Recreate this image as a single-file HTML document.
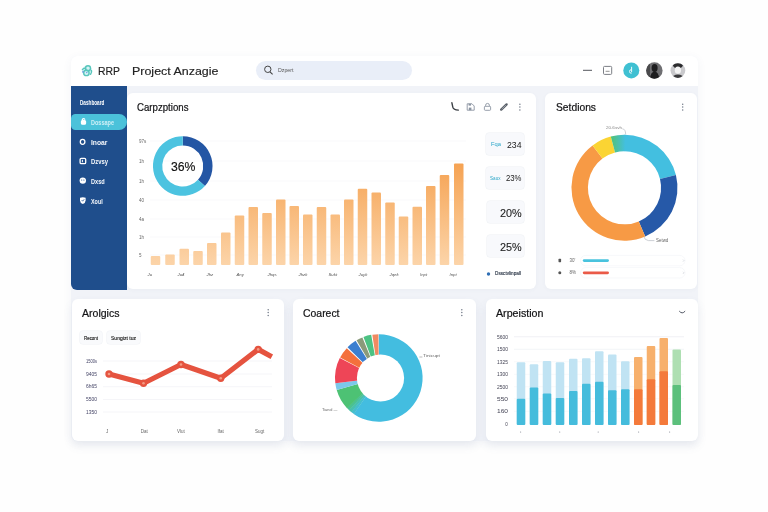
<!DOCTYPE html>
<html lang="en"><head><meta charset="utf-8"><title>RRP Project</title>
<style>
html,body{margin:0;padding:0}
body{width:768px;height:512px;background:#fefefe;position:relative;overflow:hidden;font-family:"Liberation Sans",sans-serif}
.a{position:absolute}
.t{position:absolute;white-space:nowrap;font-family:"Liberation Sans",sans-serif}
.card{position:absolute;background:#fff;border-radius:6px;box-shadow:0 1px 4px rgba(80,100,140,.04)}
.sb{position:absolute;background:#f8f9fc;border-radius:3px;box-shadow:0 0 0 .5px #edf0f4}
</style></head><body>
<div id="w" style="position:absolute;left:0;top:0;width:768px;height:512px;background:#fefefe;filter:blur(.4px)">
<div class="a" style="left:71px;top:56.2px;width:627px;height:384.8px;background:#f1f3f8;border-radius:6px;box-shadow:0 2px 10px rgba(70,90,130,.06)"></div>
<div class="a" style="left:71px;top:56.2px;width:627px;height:29.8px;background:#fff;border-radius:6px 6px 0 0"></div>
<div class="a" style="left:255.5px;top:60.5px;width:156px;height:19.5px;border-radius:10px;background:#e9eef8"></div>
<div class="a" style="left:71px;top:86.2px;width:56.2px;height:204.2px;background:#1f4e8c;border-radius:0 0 0 6px"></div>
<div class="a" style="left:71px;top:113.7px;width:55.8px;height:16.4px;background:#4bc2da;border-radius:5px 9px 9px 5px"></div>
<div class="card" style="left:127.3px;top:92.7px;width:408.4px;height:196.8px"></div>
<div class="card" style="left:545.3px;top:92.7px;width:152.2px;height:196.8px"></div>
<div class="card" style="left:71.5px;top:298.5px;width:212.3px;height:142.5px;box-shadow:0 5px 10px rgba(90,105,145,.10)"></div>
<div class="card" style="left:292.5px;top:298.5px;width:183.5px;height:142.5px;box-shadow:0 5px 10px rgba(90,105,145,.10)"></div>
<div class="card" style="left:485.5px;top:298.5px;width:212px;height:142.5px;box-shadow:0 5px 10px rgba(90,105,145,.10)"></div>
<div class="sb" style="left:485.5px;top:133px;width:38.5px;height:22px"></div>
<div class="sb" style="left:485.5px;top:166.5px;width:38.5px;height:22px"></div>
<div class="sb" style="left:486.7px;top:201px;width:37.3px;height:22px"></div>
<div class="sb" style="left:486.7px;top:235px;width:37.3px;height:22px"></div>
<div class="sb" style="left:80.2px;top:331px;width:21.8px;height:12.5px;background:#f9fafc;box-shadow:0 0 0 .6px #f0f2f6"></div>
<div class="sb" style="left:107px;top:331px;width:33.2px;height:12.5px;background:#f9fafc;box-shadow:0 0 0 .6px #f0f2f6"></div>
<svg class="a" style="left:0;top:0" width="768" height="512" viewBox="0 0 768 512">
<defs>
<linearGradient id="og" gradientUnits="userSpaceOnUse" x1="0" y1="160" x2="0" y2="268"><stop offset="0" stop-color="#f5a150"/><stop offset="1" stop-color="#fcd6ac"/></linearGradient>
<linearGradient id="gc" x1="0" y1="0" x2="1" y2="0"><stop offset="0" stop-color="#52c273"/><stop offset="1" stop-color="#43bfe0"/></linearGradient>
</defs>
<line x1="150" x2="466" y1="141" y2="141" stroke="#f7f8fa" stroke-width="0.8"/><line x1="150" x2="466" y1="161" y2="161" stroke="#f7f8fa" stroke-width="0.8"/><line x1="150" x2="466" y1="181" y2="181" stroke="#f7f8fa" stroke-width="0.8"/><line x1="150" x2="466" y1="200" y2="200" stroke="#f7f8fa" stroke-width="0.8"/><line x1="150" x2="466" y1="219" y2="219" stroke="#f7f8fa" stroke-width="0.8"/><line x1="150" x2="466" y1="237" y2="237" stroke="#f7f8fa" stroke-width="0.8"/><line x1="150" x2="466" y1="255" y2="255" stroke="#f7f8fa" stroke-width="0.8"/><rect x="150.75" y="256" width="9.5" height="9" rx="1" fill="url(#og)"/><rect x="165.25" y="254.5" width="9.5" height="10.5" rx="1" fill="url(#og)"/><rect x="179.50" y="248.75" width="9.5" height="16.25" rx="1" fill="url(#og)"/><rect x="193.25" y="251" width="9.5" height="14" rx="1" fill="url(#og)"/><rect x="207.00" y="243" width="9.5" height="22" rx="1" fill="url(#og)"/><rect x="221.00" y="232.5" width="9.5" height="32.5" rx="1" fill="url(#og)"/><rect x="234.75" y="215.5" width="9.5" height="49.5" rx="1" fill="url(#og)"/><rect x="248.50" y="207" width="9.5" height="58" rx="1" fill="url(#og)"/><rect x="262.25" y="213" width="9.5" height="52" rx="1" fill="url(#og)"/><rect x="276.00" y="199.5" width="9.5" height="65.5" rx="1" fill="url(#og)"/><rect x="289.50" y="206" width="9.5" height="59" rx="1" fill="url(#og)"/><rect x="303.00" y="214.5" width="9.5" height="50.5" rx="1" fill="url(#og)"/><rect x="316.75" y="207" width="9.5" height="58" rx="1" fill="url(#og)"/><rect x="330.50" y="214.5" width="9.5" height="50.5" rx="1" fill="url(#og)"/><rect x="344.00" y="199.5" width="9.5" height="65.5" rx="1" fill="url(#og)"/><rect x="357.75" y="188.75" width="9.5" height="76.25" rx="1" fill="url(#og)"/><rect x="371.50" y="192.5" width="9.5" height="72.5" rx="1" fill="url(#og)"/><rect x="385.25" y="202.5" width="9.5" height="62.5" rx="1" fill="url(#og)"/><rect x="398.75" y="216.5" width="9.5" height="48.5" rx="1" fill="url(#og)"/><rect x="412.50" y="206.75" width="9.5" height="58.25" rx="1" fill="url(#og)"/><rect x="426.00" y="186" width="9.5" height="79" rx="1" fill="url(#og)"/><rect x="439.75" y="175" width="9.5" height="90" rx="1" fill="url(#og)"/><rect x="454.00" y="163.5" width="9.5" height="101.5" rx="1" fill="url(#og)"/>
<path d="M182.75 136.20A29.8 29.8 0 0 1 204.90 185.94L197.98 179.72A20.5 20.5 0 0 0 182.75 145.50Z" fill="#2456a4" /><path d="M204.90 185.94A29.8 29.8 0 1 1 182.75 136.20L182.75 145.50A20.5 20.5 0 1 0 197.98 179.72Z" fill="#4cc3e0" />
<path d="M624.50 134.75A53 53 0 0 1 675.93 174.93L660.01 178.90A36.6 36.6 0 0 0 624.50 151.15Z" fill="#43bfe0" /><path d="M675.93 174.93A53 53 0 0 1 645.21 236.54L638.80 221.44A36.6 36.6 0 0 0 660.01 178.90Z" fill="#2659a8" /><path d="M645.21 236.54A53 53 0 0 1 592.60 145.42L602.47 158.52A36.6 36.6 0 0 0 638.80 221.44Z" fill="#f79a45" /><path d="M592.60 145.42A53 53 0 0 1 610.78 136.56L615.03 152.40A36.6 36.6 0 0 0 602.47 158.52Z" fill="#fbd433" /><path d="M610.78 136.56A53 53 0 0 1 625.42 134.76L625.14 151.16A36.6 36.6 0 0 0 615.03 152.40Z" fill="url(#gc)" />
<line x1="103" x2="272" y1="361" y2="361" stroke="#f2f3f6" stroke-width="0.8"/><line x1="103" x2="272" y1="374" y2="374" stroke="#f2f3f6" stroke-width="0.8"/><line x1="103" x2="272" y1="386.75" y2="386.75" stroke="#f2f3f6" stroke-width="0.8"/><line x1="103" x2="272" y1="399.5" y2="399.5" stroke="#f2f3f6" stroke-width="0.8"/><line x1="103" x2="272" y1="412" y2="412" stroke="#f2f3f6" stroke-width="0.8"/><polyline points="109,374 143.5,383.3 181,364.5 220.75,378.2 258.2,349.4 271.8,356.8" fill="none" stroke="#e5533f" stroke-width="5.2" stroke-linejoin="round" stroke-linecap="butt"/><circle cx="109" cy="374" r="3.7" fill="#e5533f"/><circle cx="109" cy="374" r="1.3" fill="#f39a82"/><circle cx="143.5" cy="383.3" r="3.7" fill="#e5533f"/><circle cx="143.5" cy="383.3" r="1.3" fill="#f39a82"/><circle cx="181" cy="364.5" r="3.7" fill="#e5533f"/><circle cx="181" cy="364.5" r="1.3" fill="#f39a82"/><circle cx="220.75" cy="378.2" r="3.7" fill="#e5533f"/><circle cx="220.75" cy="378.2" r="1.3" fill="#f39a82"/><circle cx="258.2" cy="349.4" r="3.7" fill="#e5533f"/><circle cx="258.2" cy="349.4" r="1.3" fill="#f39a82"/>
<path d="M378.80 334.20A43.8 43.8 0 1 1 353.68 413.88L366.75 395.20A21 21 0 1 0 378.80 357.00Z" fill="#43bde0" /><path d="M353.99 414.10A43.8 43.8 0 0 1 351.24 412.04L365.58 394.32A21 21 0 0 0 366.91 395.31Z" fill="#45bece" /><path d="M351.53 412.28A43.8 43.8 0 0 1 348.93 410.03L364.48 393.36A21 21 0 0 0 365.73 394.43Z" fill="#48c0b0" /><path d="M349.21 410.29A43.8 43.8 0 0 1 346.77 407.87L363.44 392.32A21 21 0 0 0 364.61 393.48Z" fill="#4bc192" /><path d="M347.03 408.15A43.8 43.8 0 0 1 336.70 390.07L358.61 383.79A21 21 0 0 0 363.57 392.46Z" fill="#4dc274" /><path d="M336.70 390.07A43.8 43.8 0 0 1 335.33 383.34L357.96 380.56A21 21 0 0 0 358.61 383.79Z" fill="#7cc8ea" /><path d="M335.33 383.34A43.8 43.8 0 0 1 339.77 358.12L360.09 368.47A21 21 0 0 0 357.96 380.56Z" fill="#ee4557" /><path d="M340.13 357.44A43.8 43.8 0 0 1 346.77 348.13L363.44 363.68A21 21 0 0 0 360.26 368.14Z" fill="#f4703c" /><path d="M347.56 347.30A43.8 43.8 0 0 1 355.59 340.86L367.67 360.19A21 21 0 0 0 363.82 363.28Z" fill="#3b7fd0" /><path d="M356.57 340.26A43.8 43.8 0 0 1 362.39 337.39L370.93 358.53A21 21 0 0 0 368.14 359.91Z" fill="#8a9a7a" /><path d="M363.46 336.97A43.8 43.8 0 0 1 371.19 334.87L375.15 357.32A21 21 0 0 0 371.45 358.33Z" fill="#4cc283" /><path d="M372.33 334.68A43.8 43.8 0 0 1 378.42 334.20L378.62 357.00A21 21 0 0 0 375.70 357.23Z" fill="#f08a62" /><circle cx="380.5" cy="378" r="23.6" fill="#fff"/>
<line x1="514" x2="684" y1="336.75" y2="336.75" stroke="#eceef2" stroke-width="0.8"/><line x1="514" x2="684" y1="349.25" y2="349.25" stroke="#f0f2f5" stroke-width="0.8"/><line x1="514" x2="684" y1="361.75" y2="361.75" stroke="#f6f7f9" stroke-width="0.8"/><line x1="514" x2="684" y1="374.25" y2="374.25" stroke="#f6f7f9" stroke-width="0.8"/><line x1="514" x2="684" y1="386.75" y2="386.75" stroke="#f6f7f9" stroke-width="0.8"/><line x1="514" x2="684" y1="398.75" y2="398.75" stroke="#f6f7f9" stroke-width="0.8"/><line x1="514" x2="684" y1="411.25" y2="411.25" stroke="#f6f7f9" stroke-width="0.8"/><rect x="516.75" y="362.25" width="8.5" height="62.75" rx="1" fill="#c0e3f3"/><rect x="516.75" y="398.75" width="8.5" height="26.25" rx="1" fill="#45bcdc"/><rect x="529.75" y="364.25" width="8.5" height="60.75" rx="1" fill="#c0e3f3"/><rect x="529.75" y="387.5" width="8.5" height="37.5" rx="1" fill="#45bcdc"/><rect x="542.75" y="361" width="8.5" height="64" rx="1" fill="#c0e3f3"/><rect x="542.75" y="393.5" width="8.5" height="31.5" rx="1" fill="#45bcdc"/><rect x="555.75" y="362.25" width="8.5" height="62.75" rx="1" fill="#c0e3f3"/><rect x="555.75" y="398" width="8.5" height="27" rx="1" fill="#45bcdc"/><rect x="569" y="358.75" width="8.5" height="66.25" rx="1" fill="#c0e3f3"/><rect x="569" y="391" width="8.5" height="34" rx="1" fill="#45bcdc"/><rect x="582" y="358.25" width="8.5" height="66.75" rx="1" fill="#c0e3f3"/><rect x="582" y="383.75" width="8.5" height="41.25" rx="1" fill="#45bcdc"/><rect x="595" y="351.25" width="8.5" height="73.75" rx="1" fill="#c0e3f3"/><rect x="595" y="381.75" width="8.5" height="43.25" rx="1" fill="#45bcdc"/><rect x="608" y="354.5" width="8.5" height="70.5" rx="1" fill="#c0e3f3"/><rect x="608" y="390.25" width="8.5" height="34.75" rx="1" fill="#45bcdc"/><rect x="621" y="361.25" width="8.5" height="63.75" rx="1" fill="#c0e3f3"/><rect x="621" y="389.25" width="8.5" height="35.75" rx="1" fill="#45bcdc"/><rect x="634" y="357" width="8.5" height="68" rx="1" fill="#f7b06c"/><rect x="634" y="389.25" width="8.5" height="35.75" rx="1" fill="#f47a3b"/><rect x="646.75" y="346" width="8.5" height="79" rx="1" fill="#f7b06c"/><rect x="646.75" y="379.25" width="8.5" height="45.75" rx="1" fill="#f47a3b"/><rect x="659.5" y="338" width="8.5" height="87" rx="1" fill="#f7b06c"/><rect x="659.5" y="371.25" width="8.5" height="53.75" rx="1" fill="#f47a3b"/><rect x="672.5" y="349.5" width="8.5" height="75.5" rx="1" fill="#aedfb2"/><rect x="672.5" y="385" width="8.5" height="40" rx="1" fill="#5cc07c"/>
<!-- setdions legend -->
<rect x="580.5" y="255.4" width="104.5" height="10.4" rx="5.2" fill="#fff" stroke="#f2f3f6" stroke-width=".6"/>
<rect x="580.5" y="267.6" width="104.5" height="10.4" rx="5.2" fill="#fff" stroke="#f2f3f6" stroke-width=".6"/>
<path d="M683 259.6l1 1-1 1M683 271.8l1 1-1 1" fill="none" stroke="#b5bac4" stroke-width=".5"/>
<path d="M622.3 128.8q3.2 0 3.4 5.6" fill="none" stroke="#9aa0aa" stroke-width=".5"/>
<path d="M643.8 236.4q.6 3.6 4.6 4.2h6" fill="none" stroke="#9aa0aa" stroke-width=".5"/>
<path d="M419.4 357h3" fill="none" stroke="#777" stroke-width=".5"/>
<rect x="582.8" y="259.2" width="26.2" height="2.8" rx="1.4" fill="#49c3de"/>
<rect x="582.8" y="271.4" width="26.2" height="2.8" rx="1.4" fill="#ea5a48"/>
<rect x="558.5" y="258.8" width="2.6" height="3.4" rx=".6" fill="#555"/>
<circle cx="559.8" cy="272.8" r="1.5" fill="#555"/>
<circle cx="488.5" cy="274" r="1.7" fill="#2f6fb5"/>
<!-- card1 icons -->
<path d="M451.9 102.8l.9 4.4q.7 2.8 5.6 2.9" fill="none" stroke="#3c4046" stroke-width="1.4" stroke-linecap="round"/>
<path d="M467.2 103.8h4.8l2.2 2.2v4.2h-7z" fill="#fff" stroke="#8b94a2" stroke-width=".9"/><rect x="468.8" y="107.6" width="2.6" height="2.6" fill="#8b94a2"/><rect x="468.6" y="103.8" width="2.4" height="1.8" fill="#8b94a2"/>
<rect x="484.4" y="106.3" width="6.2" height="4" rx=".8" fill="#fff" stroke="#8b94a2" stroke-width=".9"/><path d="M485.6 106.3v-1a1.9 1.9 0 0 1 3.8 0v1" fill="none" stroke="#8b94a2" stroke-width=".9"/>
<path d="M501.2 109.6l5.4-5.2" stroke="#5a6068" stroke-width="2.4" stroke-linecap="round"/><path d="M502 108.9l3.6-3.5" stroke="#b8bdc6" stroke-width=".7" stroke-linecap="round"/>
<g fill="#737b89"><circle cx="519.9" cy="104.3" r=".75"/><circle cx="519.9" cy="107.1" r=".75"/><circle cx="519.9" cy="109.9" r=".75"/>
<circle cx="682.7" cy="104.3" r=".75"/><circle cx="682.7" cy="107.1" r=".75"/><circle cx="682.7" cy="109.9" r=".75"/>
<circle cx="268.2" cy="309.8" r=".75"/><circle cx="268.2" cy="312.6" r=".75"/><circle cx="268.2" cy="315.4" r=".75"/>
<circle cx="461.8" cy="309.8" r=".75"/><circle cx="461.8" cy="312.6" r=".75"/><circle cx="461.8" cy="315.4" r=".75"/></g>
<path d="M679.5 311.4q2.7 3.2 5.4 0" fill="none" stroke="#3c4250" stroke-width=".9" stroke-linecap="round"/>
<!-- sidebar icons -->
<g fill="none" stroke="#fff" stroke-width="1.3">
<rect x="81.5" y="120.6" width="4" height="3.6" rx="1" fill="#fff"/><path d="M82.4 120.6v-.8a1.2 1.2 0 0 1 2.4 0"/>
<ellipse cx="82.6" cy="141.8" rx="2.3" ry="2.5"/>
<rect x="80.1" y="158.4" width="5.6" height="5.2" rx="1.2"/><path d="M82.4 159.8v2.4" stroke-width="1"/>
</g>
<circle cx="82.8" cy="180.6" r="3.2" fill="#fff"/><circle cx="81.7" cy="180" r=".6" fill="#1f4f8e"/><circle cx="83.9" cy="180" r=".6" fill="#1f4f8e"/>
<path d="M80 197.8q2.8-.9 5.6 0v2.6q0 2.2-2.8 3.6q-2.8-1.4-2.8-3.6z" fill="#fff"/><path d="M81.6 200l1.1 1.2 1.6-2" stroke="#1f4f8e" stroke-width=".7" fill="none"/>
<!-- header icons -->
<circle cx="631.3" cy="70.4" r="8" fill="#3fc0d2"/>
<clipPath id="av1"><circle cx="654.4" cy="70.5" r="8.2"/></clipPath><clipPath id="av2"><circle cx="677.9" cy="70.6" r="7.4"/></clipPath>
<g clip-path="url(#av1)"><rect x="646" y="62" width="17" height="17" fill="#6f6f72"/><ellipse cx="654.6" cy="68" rx="3" ry="4" fill="#1d1d1f"/><ellipse cx="654.6" cy="78" rx="4.4" ry="6.5" fill="#1d1d1f"/><rect x="646" y="62" width="4" height="17" fill="#4a4a4c"/></g>
<g clip-path="url(#av2)"><rect x="670" y="63" width="16" height="16" fill="#c9c9cc"/><ellipse cx="677.9" cy="65" rx="5" ry="3.4" fill="#2c2c2e"/><ellipse cx="677.9" cy="70.2" rx="3.1" ry="3.6" fill="#f4f4f4"/><ellipse cx="677.9" cy="79" rx="6" ry="4.6" fill="#3a3a3c"/></g>
<path d="M631.6 66.8v5.2m0-2.2a1.7 1.7 0 1 0 .1 3.3" fill="none" stroke="#e9fafc" stroke-width="1"/>
<line x1="605.6" x2="609.6" y1="71.3" y2="71.3" stroke="#777" stroke-width=".8"/>
<g fill="#8a8f99"><circle cx="520.6" cy="432" r=".6"/><circle cx="559.7" cy="432" r=".6"/><circle cx="598.2" cy="432" r=".6"/><circle cx="638.6" cy="432" r=".6"/><circle cx="669.6" cy="432" r=".6"/></g>
<rect x="603.5" y="66.4" width="8.2" height="8" rx="1" fill="none" stroke="#7c7f86" stroke-width="1"/>
<rect x="583" y="69.8" width="9" height="1" fill="#55585e"/>
<circle cx="267.8" cy="69.3" r="3.2" fill="none" stroke="#444" stroke-width="1"/>
<line x1="270" y1="71.8" x2="272.6" y2="74.4" stroke="#444" stroke-width="1.1"/>
<circle cx="87.1" cy="70.7" r="5.2" fill="#d5f3f6"/>
<g fill="none" stroke="#58c6bb" stroke-width="1.4" stroke-linecap="round"><circle cx="88" cy="68.3" r="2.5"/><circle cx="86.4" cy="72.9" r="2.7"/><path d="M82.4 69.6q1.4-2 3.2-1.2M90.6 74.2q1.6-1.8 .8-3.6"/></g>
<circle cx="83" cy="71.9" r=".8" fill="#6a8fe0"/><circle cx="86.8" cy="72.6" r=".7" fill="#5d8be0"/>
</svg>
<div class="t" style="left:97.9px;top:64.80px;font-size:11.5px;line-height:13.80px;color:#222;font-weight:400;transform:scaleX(0.906);transform-origin:0 0;-webkit-text-stroke:.15px currentColor;">RRP</div><div class="t" style="left:131.6px;top:64.80px;font-size:11.5px;line-height:13.80px;color:#222;font-weight:400;transform:scaleX(1.082);transform-origin:0 0;-webkit-text-stroke:.15px currentColor;">Project Anzagie</div><div class="t" style="left:278px;top:66.90px;font-size:6px;line-height:7.20px;color:#555;font-weight:400;transform:scaleX(0.877);transform-origin:0 0;">Dzpert</div><div class="t" style="left:79.9px;top:98.90px;font-size:7px;line-height:8.40px;color:#fff;font-weight:700;transform:scaleX(0.665);transform-origin:0 0;">Dashboard</div><div class="t" style="left:91px;top:118.92px;font-size:6.3px;line-height:7.56px;color:#cdeff6;font-weight:700;transform:scaleX(0.876);transform-origin:0 0;">Dossape</div><div class="t" style="left:90.5px;top:139.12px;font-size:6.3px;line-height:7.56px;color:#f4f7fb;font-weight:700;transform:scaleX(1.071);transform-origin:0 0;">Inoar</div><div class="t" style="left:90.5px;top:158.22px;font-size:6.3px;line-height:7.56px;color:#f4f7fb;font-weight:700;transform:scaleX(0.933);transform-origin:0 0;">Dzvsy</div><div class="t" style="left:90.5px;top:177.62px;font-size:6.3px;line-height:7.56px;color:#f4f7fb;font-weight:700;transform:scaleX(0.889);transform-origin:0 0;">Dxsd</div><div class="t" style="left:90.5px;top:197.52px;font-size:6.3px;line-height:7.56px;color:#f4f7fb;font-weight:700;transform:scaleX(0.857);transform-origin:0 0;">Xoul</div><div class="t" style="left:136.5px;top:101.30px;font-size:11px;line-height:13.20px;color:#141416;font-weight:400;transform:scaleX(0.877);transform-origin:0 0;-webkit-text-stroke:.22px currentColor;">Carpzptions</div><div class="t" style="left:555.5px;top:100.90px;font-size:11px;line-height:13.20px;color:#141416;font-weight:400;transform:scaleX(0.934);transform-origin:0 0;-webkit-text-stroke:.22px currentColor;">Setdions</div><div class="t" style="left:82px;top:306.80px;font-size:11px;line-height:13.20px;color:#141416;font-weight:400;transform:scaleX(0.958);transform-origin:0 0;-webkit-text-stroke:.22px currentColor;">Arolgics</div><div class="t" style="left:302.5px;top:306.80px;font-size:11px;line-height:13.20px;color:#141416;font-weight:400;transform:scaleX(0.948);transform-origin:0 0;-webkit-text-stroke:.22px currentColor;">Coarect</div><div class="t" style="left:495.5px;top:306.80px;font-size:11px;line-height:13.20px;color:#141416;font-weight:400;transform:scaleX(0.971);transform-origin:0 0;-webkit-text-stroke:.22px currentColor;">Arpeistion</div><div class="t" style="left:170.8px;top:160.00px;font-size:12.5px;line-height:15.00px;color:#111;font-weight:400;transform:scaleX(0.979);transform-origin:0 0;-webkit-text-stroke:.15px currentColor;">36%</div><div class="t" style="left:139px;top:139.20px;font-size:4.5px;line-height:5.40px;color:#666;font-weight:400;">97s</div><div class="t" style="left:139px;top:159.20px;font-size:4.5px;line-height:5.40px;color:#666;font-weight:400;">1h</div><div class="t" style="left:139px;top:179.20px;font-size:4.5px;line-height:5.40px;color:#666;font-weight:400;">1h</div><div class="t" style="left:139px;top:198.20px;font-size:4.5px;line-height:5.40px;color:#666;font-weight:400;">40</div><div class="t" style="left:139px;top:217.20px;font-size:4.5px;line-height:5.40px;color:#666;font-weight:400;">4a</div><div class="t" style="left:139px;top:235.20px;font-size:4.5px;line-height:5.40px;color:#666;font-weight:400;">1h</div><div class="t" style="left:139px;top:253.20px;font-size:4.5px;line-height:5.40px;color:#666;font-weight:400;">5</div><div class="t" style="left:147.5px;top:272.42px;font-size:4.3px;line-height:5.16px;color:#555;font-weight:400;font-style:italic;">Ju</div><div class="t" style="left:177.5px;top:272.42px;font-size:4.3px;line-height:5.16px;color:#555;font-weight:400;font-style:italic;">Ju4</div><div class="t" style="left:206.5px;top:272.42px;font-size:4.3px;line-height:5.16px;color:#555;font-weight:400;font-style:italic;">Jhz</div><div class="t" style="left:236.5px;top:272.42px;font-size:4.3px;line-height:5.16px;color:#555;font-weight:400;font-style:italic;">Any</div><div class="t" style="left:267.5px;top:272.42px;font-size:4.3px;line-height:5.16px;color:#555;font-weight:400;font-style:italic;">Jhqs</div><div class="t" style="left:298.5px;top:272.42px;font-size:4.3px;line-height:5.16px;color:#555;font-weight:400;font-style:italic;">Jhzk</div><div class="t" style="left:328.5px;top:272.42px;font-size:4.3px;line-height:5.16px;color:#555;font-weight:400;font-style:italic;">Sukt</div><div class="t" style="left:358.5px;top:272.42px;font-size:4.3px;line-height:5.16px;color:#555;font-weight:400;font-style:italic;">Juyk</div><div class="t" style="left:389.5px;top:272.42px;font-size:4.3px;line-height:5.16px;color:#555;font-weight:400;font-style:italic;">Jqek</div><div class="t" style="left:420.0px;top:272.42px;font-size:4.3px;line-height:5.16px;color:#555;font-weight:400;font-style:italic;">Inpt</div><div class="t" style="left:449.5px;top:272.42px;font-size:4.3px;line-height:5.16px;color:#555;font-weight:400;font-style:italic;">Inpt</div><div class="t" style="left:491px;top:141.20px;font-size:5.5px;line-height:6.60px;color:#2aa6c8;font-weight:400;transform:scaleX(1.055);transform-origin:0 0;">Fqa</div><div class="t" style="left:507px;top:138.80px;font-size:9.5px;line-height:11.40px;color:#222;font-weight:400;transform:scaleX(0.915);transform-origin:0 0;">234</div><div class="t" style="left:489.5px;top:174.70px;font-size:5.5px;line-height:6.60px;color:#2aa6c8;font-weight:400;transform:scaleX(0.838);transform-origin:0 0;">Saux</div><div class="t" style="left:506px;top:172.30px;font-size:9.5px;line-height:11.40px;color:#222;font-weight:400;transform:scaleX(0.815);transform-origin:0 0;">23%</div><div class="t" style="left:499.5px;top:207.00px;font-size:10.5px;line-height:12.60px;color:#222;font-weight:400;transform:scaleX(1.033);transform-origin:0 0;-webkit-text-stroke:.1px currentColor;">20%</div><div class="t" style="left:499.5px;top:241.00px;font-size:10.5px;line-height:12.60px;color:#222;font-weight:400;transform:scaleX(1.033);transform-origin:0 0;-webkit-text-stroke:.1px currentColor;">25%</div><div class="t" style="left:495px;top:271.32px;font-size:4.8px;line-height:5.76px;color:#2f3a4a;font-weight:400;transform:scaleX(0.975);transform-origin:0 0;-webkit-text-stroke:.15px currentColor;">Dssctvlinpall</div><div class="t" style="left:605.5px;top:126.10px;font-size:4px;line-height:4.80px;color:#888;font-weight:400;transform:scaleX(1.142);transform-origin:0 0;">20.6svh</div><div class="t" style="left:655.5px;top:238.05px;font-size:4.5px;line-height:5.40px;color:#666;font-weight:400;transform:scaleX(0.983);transform-origin:0 0;">Setwd</div><div class="t" style="left:569.5px;top:257.80px;font-size:4.5px;line-height:5.40px;color:#666;font-weight:400;">30'</div><div class="t" style="left:569.5px;top:270.05px;font-size:4.5px;line-height:5.40px;color:#666;font-weight:400;">8%</div><div class="t" style="left:84px;top:334.60px;font-size:5px;line-height:6.00px;color:#222;font-weight:400;transform:scaleX(0.884);transform-origin:0 0;-webkit-text-stroke:.15px currentColor;">Recont</div><div class="t" style="left:111px;top:334.60px;font-size:5px;line-height:6.00px;color:#222;font-weight:400;transform:scaleX(1.011);transform-origin:0 0;-webkit-text-stroke:.15px currentColor;">Sungizt tuz</div><div class="t" style="left:86px;top:359.10px;font-size:4.5px;line-height:5.40px;color:#446;font-weight:400;transform:scaleX(0.897);transform-origin:0 0;">1500s</div><div class="t" style="left:86px;top:371.85px;font-size:4.5px;line-height:5.40px;color:#446;font-weight:400;transform:scaleX(1.099);transform-origin:0 0;">9405</div><div class="t" style="left:86px;top:384.35px;font-size:4.5px;line-height:5.40px;color:#446;font-weight:400;transform:scaleX(1.099);transform-origin:0 0;">6h65</div><div class="t" style="left:86px;top:397.35px;font-size:4.5px;line-height:5.40px;color:#446;font-weight:400;transform:scaleX(1.099);transform-origin:0 0;">5500</div><div class="t" style="left:86px;top:410.35px;font-size:4.5px;line-height:5.40px;color:#446;font-weight:400;transform:scaleX(1.099);transform-origin:0 0;">1350</div><div class="t" style="left:105.9px;top:429.30px;font-size:4.5px;line-height:5.40px;color:#666;font-weight:400;">J</div><div class="t" style="left:140.7px;top:429.30px;font-size:4.5px;line-height:5.40px;color:#666;font-weight:400;">Dat</div><div class="t" style="left:177.1px;top:429.30px;font-size:4.5px;line-height:5.40px;color:#666;font-weight:400;">Vlut</div><div class="t" style="left:217.4px;top:429.30px;font-size:4.5px;line-height:5.40px;color:#666;font-weight:400;">Ifat</div><div class="t" style="left:255.1px;top:429.30px;font-size:4.5px;line-height:5.40px;color:#666;font-weight:400;">Sugt</div><div class="t" style="left:423px;top:353.48px;font-size:4.2px;line-height:5.04px;color:#666;font-weight:400;transform:scaleX(1.168);transform-origin:0 0;">Tinicupt</div><div class="t" style="left:322px;top:407.48px;font-size:4.2px;line-height:5.04px;color:#666;font-weight:400;transform:scaleX(0.931);transform-origin:0 0;">Tianol —</div><div class="t" style="left:497px;top:334.65px;font-size:4.5px;line-height:5.40px;color:#445;font-weight:400;transform:scaleX(1.099);transform-origin:0 0;">5600</div><div class="t" style="left:497px;top:347.15px;font-size:4.5px;line-height:5.40px;color:#445;font-weight:400;transform:scaleX(1.099);transform-origin:0 0;">1500</div><div class="t" style="left:497px;top:359.65px;font-size:4.5px;line-height:5.40px;color:#445;font-weight:400;transform:scaleX(1.099);transform-origin:0 0;">1325</div><div class="t" style="left:497px;top:372.15px;font-size:4.5px;line-height:5.40px;color:#445;font-weight:400;transform:scaleX(1.099);transform-origin:0 0;">1300</div><div class="t" style="left:497px;top:384.65px;font-size:4.5px;line-height:5.40px;color:#445;font-weight:400;transform:scaleX(1.099);transform-origin:0 0;">2500</div><div class="t" style="left:497px;top:396.65px;font-size:4.5px;line-height:5.40px;color:#445;font-weight:400;transform:scaleX(1.465);transform-origin:0 0;">550</div><div class="t" style="left:497px;top:409.15px;font-size:4.5px;line-height:5.40px;color:#445;font-weight:400;transform:scaleX(1.465);transform-origin:0 0;">160</div><div class="t" style="left:505.3px;top:421.90px;font-size:4.5px;line-height:5.40px;color:#445;font-weight:400;">0</div>
</div>
</body></html>
